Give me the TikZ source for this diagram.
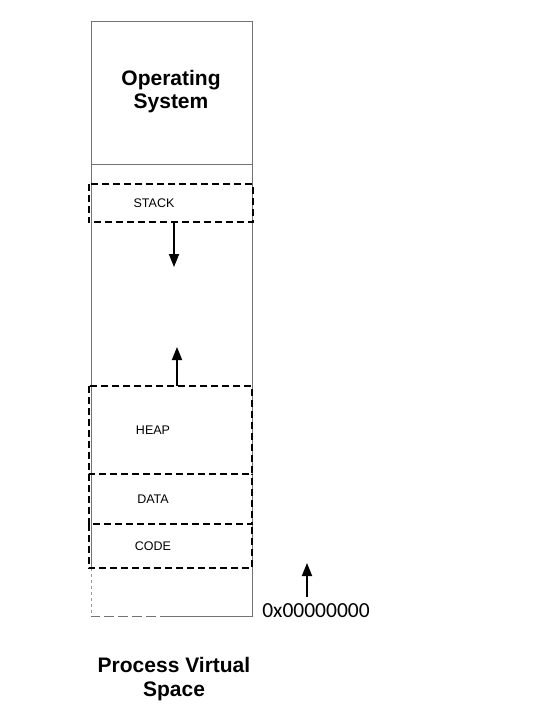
\documentclass[tikz,border=0pt]{standalone}
\usepackage{fontspec}
\setmainfont{Liberation Sans}
\newfontfamily\calibri{Carlito}
\usetikzlibrary{arrows.meta}
\begin{document}
\begin{tikzpicture}[x=1pt,y=-1pt,
  seg/.style={inner sep=0pt},
  dsh/.style={line width=2pt, dash pattern=on 7pt off 4pt},
  lbl/.style={font=\fontsize{12.5}{14}\selectfont, inner sep=0pt},
  big/.style={font=\bfseries\fontsize{21}{24}\selectfont, align=center, inner sep=0pt},
  arr/.style={-{Triangle[length=13pt,width=10pt]}, line width=1.8pt},
  frame/.style={draw=black!55, line width=0.8pt}]
\useasboundingbox (0,0) rectangle (540,718);
% outer frame
\draw[frame] (91,568) -- (91,21) -- (252,21) -- (252,616) -- (170,616);
\draw[frame, dash pattern=on 10pt off 4pt] (170,616) -- (91,616);
\draw[frame, black!40, dash pattern=on 3pt off 3pt] (91,568) -- (91,616);
\draw[frame] (91,164) -- (252,164);
% operating system
\node[big] (os) at (171,92) {Operating\\[-1pt]System};
% segments
\node[seg, minimum width=164pt, minimum height=38pt] (stack) at (171,203) {};
\node[lbl] (stackt) at (154,203) {STACK};
\node[seg, minimum width=163pt, minimum height=88pt] (heap) at (170.5,430) {};
\node[lbl] (heapt) at (153,430) {HEAP};
\node[seg, minimum width=163pt, minimum height=50pt] (data) at (170.5,499) {};
\node[lbl] (datat) at (153,499) {DATA};
\node[seg, minimum width=163pt, minimum height=44pt] (code) at (170.5,546) {};
\node[lbl] (codet) at (153,546) {CODE};
\draw[dsh] (stack.north west) rectangle (stack.south east);
\draw[dsh] (heap.north west) rectangle (heap.south east);
\draw[dsh] (data.north west) -- (data.south west) -- (data.south east) -- (data.north east);
\draw[dsh] (code.north west) -- (code.south west) -- (code.south east) -- (code.north east);
% growth arrows
\coordinate (sd) at (174,267);
\coordinate (hu) at (177,347);
\draw[arr] (stack.south -| sd) -- (sd);
\draw[arr] (heap.north -| hu) -- (hu);
% address
\node[font=\calibri\fontsize{21.5}{24}\selectfont, anchor=base, inner sep=0pt] (addr) at (316,617) {0x00000000};
\coordinate (a0) at (307,597);
\coordinate (a1) at (307,563);
\draw[arr] (a0) -- (a1);
% title
\node[big] (title) at (174,679) {Process Virtual\\[0pt]Space};
\end{tikzpicture}
\end{document}
